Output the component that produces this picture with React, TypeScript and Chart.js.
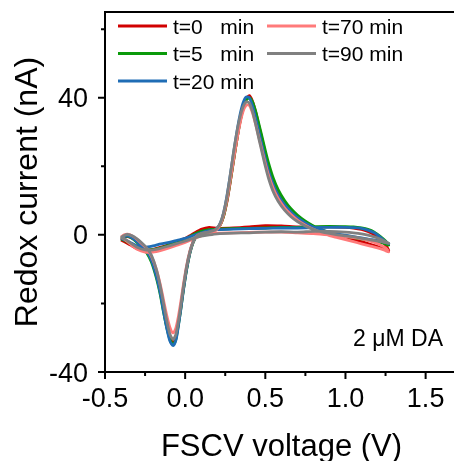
import React, { useEffect, useRef } from "react";
import { Chart, registerables } from "chart.js";
Chart.register(...registerables);

// Shared voltage grid (V): forward sweep then reverse sweep
const voltageForward = [-0.40, -0.38, -0.36, -0.33, -0.30, -0.27, -0.24, -0.21, -0.18, -0.155, -0.135, -0.115, -0.095, -0.075, -0.058, -0.043, -0.028, -0.012, 0.008, 0.03, 0.05, 0.07, 0.10, 0.14, 0.18, 0.20, 0.22, 0.24, 0.26, 0.28, 0.30, 0.32, 0.34, 0.36, 0.38, 0.40, 0.42, 0.44, 0.46, 0.48, 0.50, 0.52, 0.55, 0.58, 0.62, 0.66, 0.70, 0.75, 0.80, 0.85, 0.90, 0.95, 1.00, 1.05, 1.10, 1.15, 1.20, 1.24, 1.27];
const voltageReverse = [1.25, 1.22, 1.18, 1.14, 1.10, 1.05, 1.00, 0.90, 0.80, 0.70, 0.60, 0.50, 0.40, 0.30, 0.20, 0.15, 0.10, 0.05, 0.00, -0.05, -0.10, -0.15, -0.20, -0.25, -0.30, -0.34, -0.37, -0.40];

// Currents (nA)
const t0Forward = [-1.5, -0.8, -0.5, -1.0, -2.0, -3.2, -4.5, -7.0, -11.5, -16.5, -21.5, -26.5, -30.0, -31.5, -30.0, -26.0, -21.5, -16.0, -10.0, -5.0, -2.0, -0.3, 0.6, 1.0, 1.4, 1.9, 3.0, 5.5, 9.5, 15.0, 21.0, 27.0, 32.5, 36.8, 39.6, 40.6, 39.0, 35.8, 31.8, 27.8, 23.8, 20.0, 15.5, 12.3, 9.2, 6.9, 5.2, 3.6, 2.4, 1.4, 0.6, 0.0, -0.6, -1.3, -2.0, -2.7, -3.4, -4.1, -4.7];
const t0Reverse = [-3.0, -1.5, 0.0, 1.0, 1.6, 2.0, 2.2, 2.3, 2.2, 2.3, 2.6, 2.7, 2.3, 2.0, 1.9, 2.2, 1.6, 0.3, -1.0, -2.0, -2.8, -3.6, -4.2, -4.5, -4.0, -3.0, -2.2, -1.5];

const t5Forward = [-1.2, -0.6, -0.4, -1.0, -2.2, -3.6, -5.2, -8.0, -12.5, -17.5, -22.5, -27.0, -30.5, -32.0, -30.5, -26.5, -22.0, -16.5, -10.5, -5.3, -2.2, -0.4, 0.5, 0.9, 1.3, 1.8, 3.0, 5.5, 9.8, 15.2, 21.2, 27.0, 32.4, 36.5, 39.2, 40.0, 38.8, 36.0, 32.3, 28.5, 24.6, 21.0, 16.5, 13.2, 10.0, 7.6, 5.8, 4.0, 2.6, 1.5, 0.7, 0.1, -0.4, -0.8, -1.2, -1.6, -2.0, -2.5, -3.0];
const t5Reverse = [-1.8, -0.6, 0.8, 1.6, 2.0, 2.3, 2.4, 2.5, 2.4, 2.2, 2.2, 2.0, 1.9, 1.8, 1.7, 1.5, 1.0, 0.0, -1.2, -2.1, -3.0, -3.8, -4.3, -4.4, -3.8, -2.7, -1.8, -1.2];

const t20Forward = [-1.0, -0.5, -0.3, -0.9, -2.0, -3.3, -4.8, -7.5, -12.0, -17.0, -22.3, -27.2, -31.0, -32.3, -30.8, -26.8, -22.0, -16.5, -10.3, -5.2, -2.1, -0.4, 0.5, 0.9, 1.3, 2.0, 3.5, 6.5, 11.2, 17.0, 23.3, 29.3, 34.5, 38.3, 40.2, 40.0, 37.6, 34.0, 30.0, 26.0, 22.2, 18.6, 14.6, 11.6, 8.8, 6.7, 5.0, 3.5, 2.3, 1.4, 0.8, 0.3, -0.1, -0.5, -0.9, -1.3, -1.7, -2.1, -2.6];
const t20Reverse = [-2.0, -0.8, 0.6, 1.4, 1.9, 2.1, 2.2, 2.2, 2.1, 2.0, 2.0, 1.9, 1.8, 1.7, 1.5, 1.2, 0.6, -0.2, -1.0, -1.6, -2.2, -2.6, -3.2, -3.6, -3.2, -2.3, -1.6, -1.0];

const t70Forward = [-0.6, 0.0, 0.2, -0.3, -1.3, -2.6, -4.0, -6.3, -10.0, -14.5, -19.0, -23.5, -27.0, -28.6, -27.2, -24.0, -19.8, -14.8, -9.2, -4.6, -1.9, -0.4, 0.3, 0.7, 1.1, 1.7, 3.0, 5.8, 10.0, 15.5, 21.3, 27.0, 32.0, 35.8, 37.8, 37.8, 35.6, 32.2, 28.4, 24.6, 20.8, 17.4, 13.5, 10.6, 7.9, 5.9, 4.3, 2.8, 1.6, 0.6, -0.2, -0.8, -1.4, -2.0, -2.6, -3.2, -3.8, -4.4, -5.0];
const t70Reverse = [-3.8, -3.0, -2.2, -1.6, -1.2, -0.8, -0.5, 0.0, 0.4, 0.6, 0.8, 0.8, 0.7, 0.6, 0.5, 0.3, -0.3, -1.2, -2.2, -3.0, -3.8, -4.5, -5.0, -5.0, -4.2, -2.8, -1.6, -0.6];

const t90Forward = [-0.8, -0.2, 0.1, -0.3, -1.2, -2.4, -3.8, -6.0, -10.0, -15.0, -20.0, -25.0, -29.0, -30.5, -29.0, -25.5, -21.0, -15.5, -9.5, -4.8, -2.0, -0.4, 0.4, 0.8, 1.3, 2.0, 3.5, 6.5, 11.0, 17.0, 23.5, 29.3, 34.0, 37.2, 38.8, 38.5, 36.0, 32.2, 28.0, 24.0, 20.0, 16.5, 12.5, 9.8, 7.2, 5.3, 3.9, 2.6, 1.6, 0.9, 0.4, 0.0, -0.3, -0.6, -1.0, -1.4, -1.8, -2.2, -2.5];
const t90Reverse = [-2.0, -1.3, -0.6, -0.1, 0.3, 0.6, 0.8, 1.0, 1.0, 0.8, 0.9, 0.8, 0.6, 0.5, 0.3, 0.0, -0.4, -1.0, -1.8, -2.5, -3.2, -3.9, -4.4, -4.4, -3.6, -2.4, -1.4, -0.8];

const seriesLabels = ["t=0   min", "t=5   min", "t=20 min", "t=70 min", "t=90 min"];
const seriesColors = ["#d10000", "#0a9a0a", "#1f6db5", "#ff7a7a", "#808080"];

const xMajorTicks = [-0.5, 0.0, 0.5, 1.0, 1.5];
const xMinorTicks = [-0.25, 0.25, 0.75, 1.25];
const xTickLabels = ["-0.5", "0.0", "0.5", "1.0", "1.5"];
const yMajorTicks = [-40, 0, 40];
const yMinorTicks = [-20, 20, 60];
const yTickLabels = ["-40", "0", "40"];

const xTitle = "FSCV voltage (V)";
const yTitle = "Redox current (nA)";
const annotation = "2 \u03bcM DA";

const FONT = "'Liberation Sans', Arial, sans-serif";

function makePoints(fwd: number[], rev: number[]) {
  const pts: { x: number; y: number }[] = [];
  voltageForward.forEach((v, i) => pts.push({ x: v, y: fwd[i] }));
  voltageReverse.forEach((v, i) => pts.push({ x: v, y: rev[i] }));
  return pts;
}

const decorPlugin = {
  id: "decor",
  afterDatasetsDraw(chart: any) {
    const { ctx, chartArea, scales } = chart;
    const xs = scales.x;
    const ys = scales.y;
    const L = chartArea.left, R = chartArea.right, T = chartArea.top, B = chartArea.bottom;
    ctx.save();
    ctx.strokeStyle = "#000";
    ctx.fillStyle = "#000";
    ctx.lineWidth = 2;
    ctx.lineCap = "square";
    ctx.beginPath();
    ctx.moveTo(L, T); ctx.lineTo(R + 2, T);
    ctx.moveTo(L, T); ctx.lineTo(L, B);
    ctx.lineTo(R + 2, B);
    ctx.stroke();
    ctx.lineCap = "butt";
    ctx.beginPath();
    xMajorTicks.forEach((v) => { const p = xs.getPixelForValue(v); ctx.moveTo(p, B); ctx.lineTo(p, B + 7); });
    xMinorTicks.forEach((v) => { const p = xs.getPixelForValue(v); ctx.moveTo(p, B); ctx.lineTo(p, B + 4); });
    yMajorTicks.forEach((v) => { const p = ys.getPixelForValue(v); ctx.moveTo(L, p); ctx.lineTo(L - 7, p); });
    yMinorTicks.forEach((v) => { const p = ys.getPixelForValue(v); ctx.moveTo(L, p); ctx.lineTo(L - 4, p); });
    ctx.stroke();

    // tick labels
    ctx.font = `27px ${FONT}`;
    ctx.textBaseline = "alphabetic";
    ctx.textAlign = "center";
    xMajorTicks.forEach((v, i) => ctx.fillText(xTickLabels[i], xs.getPixelForValue(v), B + 35));
    ctx.textAlign = "right";
    yMajorTicks.forEach((v, i) => ctx.fillText(yTickLabels[i], L - 17, ys.getPixelForValue(v) + 9.5));

    // axis titles
    ctx.font = `31px ${FONT}`;
    ctx.textAlign = "center";
    ctx.fillText(xTitle, (L + R) / 2 + 2, 456);
    ctx.save();
    ctx.translate(36.5, (T + B) / 2);
    ctx.rotate(-Math.PI / 2);
    ctx.font = `32px ${FONT}`;
    ctx.fillText(yTitle, 0, 0);
    ctx.restore();

    // annotation
    ctx.font = `23px ${FONT}`;
    ctx.textAlign = "right";
    ctx.fillText(annotation, 443, 346);

    // legend
    const cols = [
      { lx: 118, tx: 173 },
      { lx: 267, tx: 322 },
    ];
    const rowBase = [33.5, 61, 88.5];
    ctx.font = `21px ${FONT}`;
    ctx.textAlign = "left";
    chart.data.datasets.forEach((ds: any, i: number) => {
      const col = cols[i < 3 ? 0 : 1];
      const row = i < 3 ? i : i - 3;
      const yb = rowBase[row];
      ctx.strokeStyle = ds.borderColor;
      ctx.lineWidth = 3;
      ctx.beginPath();
      ctx.moveTo(col.lx, yb - 7.5);
      ctx.lineTo(col.lx + 49, yb - 7.5);
      ctx.stroke();
      ctx.fillStyle = "#000";
      ctx.fillText(ds.label, col.tx, yb);
    });
    ctx.restore();
  },
};

export default function App() {
  const ref = useRef<HTMLCanvasElement | null>(null);
  useEffect(() => {
    if (!ref.current) return;
    const series = [
      [t0Forward, t0Reverse],
      [t5Forward, t5Reverse],
      [t20Forward, t20Reverse],
      [t70Forward, t70Reverse],
      [t90Forward, t90Reverse],
    ];
    const datasets = series.map((s, i) => ({
      label: seriesLabels[i],
      data: makePoints(s[0], s[1]),
      borderColor: seriesColors[i],
      backgroundColor: seriesColors[i],
      borderWidth: 2.8,
      showLine: true,
      pointRadius: 0,
      tension: 0.25,
      order: 5 - i,
    }));
    const chart = new Chart(ref.current, {
      type: "scatter",
      data: { datasets },
      options: {
        animation: false,
        responsive: false,
        maintainAspectRatio: false,
        layout: { padding: { top: 12, left: 0, right: 0, bottom: 0 } },
        plugins: { legend: { display: false }, tooltip: { enabled: false } },
        scales: {
          x: {
            type: "linear",
            min: -0.5,
            max: 1.677,
            grid: { display: false },
            border: { display: false },
            ticks: { display: false },
            afterFit: (s: any) => { s.height = 89; },
          },
          y: {
            type: "linear",
            min: -40,
            max: 65,
            grid: { display: false },
            border: { display: false },
            ticks: { display: false },
            afterFit: (s: any) => { s.width = 105; },
          },
        },
      },
      plugins: [decorPlugin],
    });
    return () => chart.destroy();
  }, []);
  return (
    <div style={{ position: "absolute", left: 0, top: 0, width: 454, height: 461, background: "#fff" }}>
      <canvas ref={ref} width={454} height={461} style={{ width: 454, height: 461 }} />
    </div>
  );
}
